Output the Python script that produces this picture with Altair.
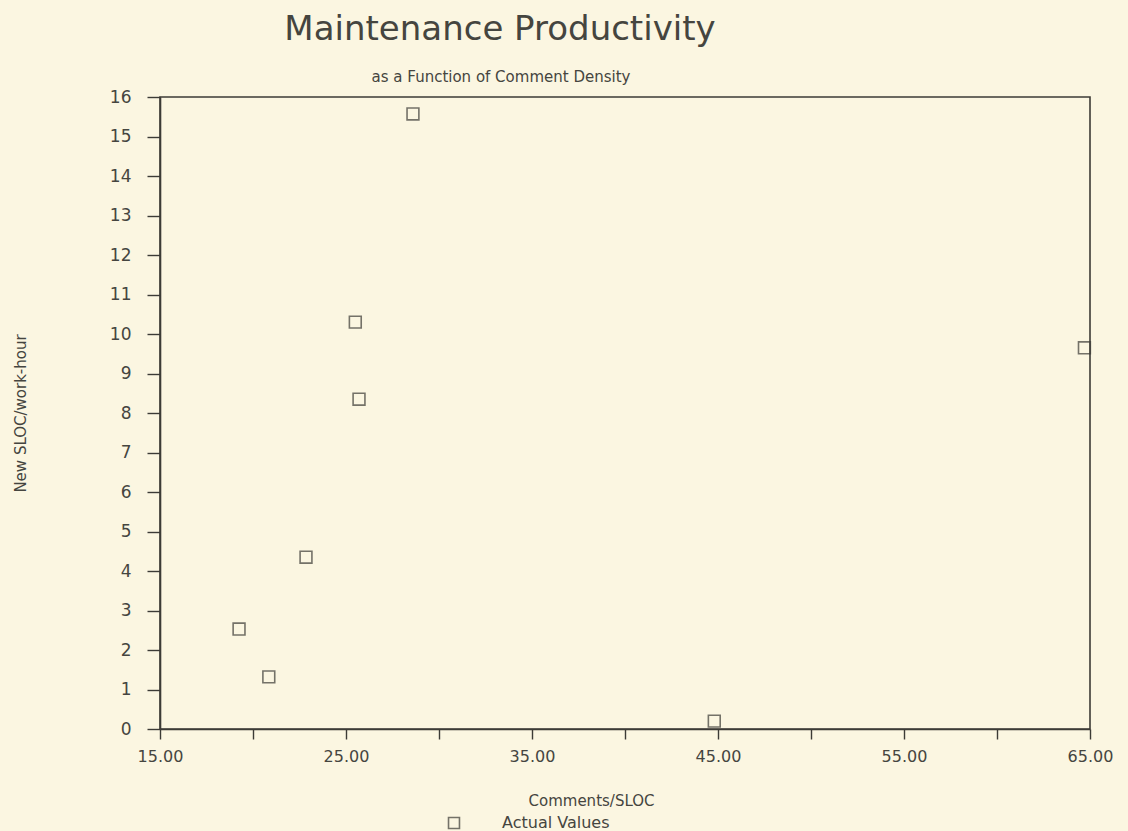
import altair as alt
import pandas as pd

comments_per_sloc = [28.6, 25.5, 25.7, 22.85, 19.25, 20.85, 64.7, 44.8]
new_sloc_per_hour = [15.57, 10.3, 8.35, 4.35, 2.53, 1.32, 9.65, 0.2]
series = ["Actual Values"] * len(comments_per_sloc)

x_ticks = [15, 20, 25, 30, 35, 40, 45, 50, 55, 60, 65]
y_ticks = list(range(0, 17))

df = pd.DataFrame({"x": comments_per_sloc, "y": new_sloc_per_hour, "s": series})

FONT = "DejaVu Sans"
INK = "#3c3b36"
TXT = "#45453f"

points = alt.Chart(df).mark_point(shape="square", size=140, strokeWidth=1.6, filled=False).encode(
    x=alt.X("x:Q", scale=alt.Scale(domain=[15, 65], nice=False, zero=False),
            axis=alt.Axis(values=x_ticks, title="Comments/SLOC",
                          labelExpr="datum.value % 10 == 5 ? format(datum.value, '.2f') : ''",
                          tickSize=10, labelPadding=9, labelFontSize=16, labelFlush=False,
                          titleX=431, titleY=71, titleBaseline="middle", titleAlign="center",
                          titleFontSize=15, titleFontWeight="normal", grid=False)),
    y=alt.Y("y:Q", scale=alt.Scale(domain=[0, 16], nice=False),
            axis=alt.Axis(values=y_ticks, title="New SLOC/work-hour", format="d",
                          tickSize=13, labelPadding=16, labelFontSize=17, labelFlush=False,
                          titleX=-140, titleY=316, titleAngle=-90, titleAlign="center",
                          titleBaseline="middle", titleFontSize=15, titleFontWeight="normal",
                          grid=False)),
    color=alt.Color("s:N", scale=alt.Scale(range=[INK]),
                    legend=alt.Legend(title=None, orient="none", legendX=286, legendY=718,
                                      symbolType="square", symbolSize=120,
                                      symbolStrokeWidth=1.6, symbolFillColor="transparent",
                                      labelFontSize=16, labelOffset=40, padding=0,
                                      labelColor=TXT, labelFont=FONT)),
)

title = alt.Chart(pd.DataFrame({"t": ["Maintenance Productivity"]})).mark_text(
    fontSize=34, font=FONT, color=TXT, align="center", baseline="middle"
).encode(text="t:N", x=alt.value(340), y=alt.value(-67))

subtitle = alt.Chart(pd.DataFrame({"t": ["as a Function of Comment Density"]})).mark_text(
    fontSize=15, font=FONT, color=TXT, align="center", baseline="middle"
).encode(text="t:N", x=alt.value(341), y=alt.value(-20))

chart = alt.layer(points, title, subtitle).properties(
    width=930, height=632,
    background="#FBF6E1",
    autosize=alt.AutoSizeParams(type="none"),
    padding={"left": 160, "top": 97, "right": 38, "bottom": 102},
).configure_view(
    stroke=INK, strokeWidth=1.6, fill=None
).configure_axis(
    domainColor=INK, domainWidth=1.6, tickColor=INK, tickWidth=1.4,
    labelColor=TXT, titleColor=TXT, labelFont=FONT, titleFont=FONT
)

chart.save("out.html", embed_options={"renderer": "svg", "actions": False})
